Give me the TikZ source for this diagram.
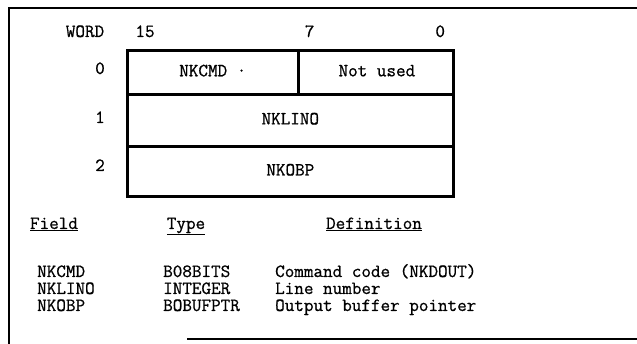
\documentclass[tikz,border=0pt]{standalone}
\usepackage{fontspec}
\newfontfamily\scanfont{Latin Modern Mono}[FakeBold=0.8]
\begin{document}
\begin{tikzpicture}[x=1pt,y=-1pt,every node/.style={font=\scanfont\fontsize{18.6}{20}\selectfont,inner sep=0pt,text height=11pt,text depth=3pt},
  cell/.style={draw,line width=1.6pt,minimum height=49pt,anchor=north west}]
\useasboundingbox (0,0) rectangle (637,344);
% frame
\draw[line width=2.6pt] (637,8) -- (9,8) -- (9,344);
\draw[line width=2.4pt] (187,339) -- (637,339);
% word layout
\node[cell, minimum width=170pt, minimum height=43pt] (cmd) at (127,50) {NKCMD ·};
\node[cell, minimum width=155pt, minimum height=43pt] (unused) at (cmd.north east) {Not used};
\node[cell, minimum width=325pt, minimum height=50pt] (lino) at (cmd.south west) {NKLINO};
\node[cell, minimum width=325pt] (obp) at (lino.south west) {NKOBP};
\draw[line width=2.8pt] (cmd.north west) rectangle (obp.south east);
\node (word) at (85,33) {WORD};
\node (b15) at (cmd.north west |- word) [xshift=18pt] {15};
\node (b7) at (cmd.north east |- word) [xshift=11pt] {7};
\node (b0) at (unused.north east |- word) [xshift=-15pt] {0};
\node (w0) at (100,70) {0};
\node (w1) at (100,119) {1};
\node (w2) at (100,167) {2};
% field table
\node (hfield) at (54,225) {\underline{Field}};
\node (htype) at (186,225) {\underline{Type}};
\node (hdef) at (374,225) {\underline{Definition}};
\node[anchor=west] (f1) at (37,273) {NKCMD};
\node[anchor=west] (f2) at (37,290) {NKLINO};
\node[anchor=west] (f3) at (37,307) {NKOBP};
\node[anchor=west] (t1) at (163,273) {B08BITS};
\node[anchor=west] (t2) at (163,290) {INTEGER};
\node[anchor=west] (t3) at (163,307) {BOBUFPTR};
\node[anchor=west] (d1) at (275,273) {Command code (NKDOUT)};
\node[anchor=west] (d2) at (275,290) {Line number};
\node[anchor=west] (d3) at (275,307) {Output buffer pointer};
\end{tikzpicture}
\end{document}
